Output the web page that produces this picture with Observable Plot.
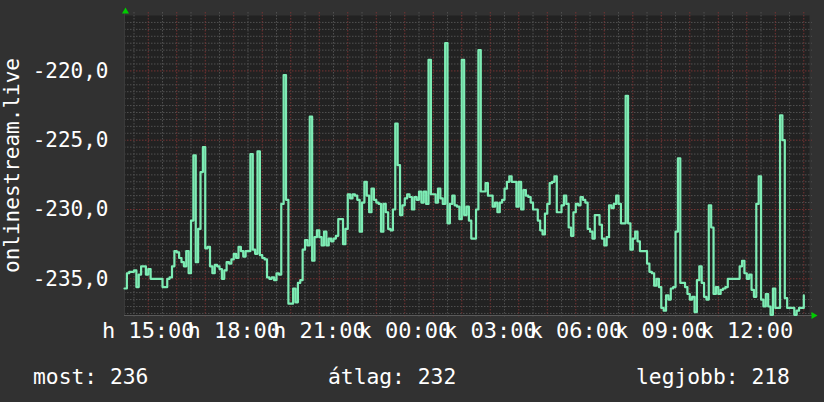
<!DOCTYPE html>
<html>
<head>
<meta charset="utf-8">
<script src="https://cdn.jsdelivr.net/npm/d3@7"></script>
<script src="https://cdn.jsdelivr.net/npm/@observablehq/plot@0.6"></script>
<style>
  html, body { margin: 0; padding: 0; background: #313131; }
  #wrap { position: relative; width: 824px; height: 402px; background: #313131; overflow: hidden;
          font-family: "DejaVu Sans Mono", monospace; color: #ffffff; }
  #chart svg { display: block; }
  #legend { position: relative; width: 824px; height: 57px; font-size: 21.3px; }
  #legend span { position: absolute; top: 21px; line-height: 21px; white-space: pre; }
</style>
</head>
<body>
<div id="wrap">
  <div id="chart"></div>
  <div id="legend"></div>
</div>
<script>
// ---- data ----
const seriesName = "onlinestream.live";
const startTime = new Date(2024, 0, 1, 14, 10);   // hétfő 14:10
const endTime = new Date(2024, 0, 2, 14, 12);     // kedd 14:12
const stepMinutes = 5;
const values = [
  -235.7,-234.6,-234.5,-234.5,-234.4,-235.6,-234.7,-234.1,-234.1,-234.7,
  -234.3,-235.0,-235.0,-235.0,-235.0,-235.0,-235.6,-235.6,-235.0,-234.9,
  -234.1,-233.0,-233.1,-233.5,-233.8,-234.1,-233.0,-234.6,-230.8,-226.1,
  -233.8,-231.4,-227.3,-225.5,-232.8,-232.7,-234.1,-234.6,-234.0,-234.1,
  -234.3,-235.0,-234.4,-233.8,-233.9,-233.6,-233.2,-233.5,-232.7,-233.0,
  -233.4,-233.0,-233.0,-226.0,-232.9,-233.2,-225.8,-233.3,-233.5,-233.6,
  -234.9,-235.0,-234.9,-235.1,-234.6,-234.7,-229.6,-220.3,-229.3,-236.8,
  -236.8,-235.7,-236.7,-235.3,-235.1,-232.9,-232.2,-232.6,-223.3,-233.7,
  -232.0,-231.5,-232.0,-232.6,-231.6,-232.6,-232.1,-232.3,-232.1,-231.9,
  -230.7,-230.7,-232.5,-231.4,-228.9,-229.2,-228.9,-229.0,-229.3,-231.6,
  -229.5,-228.0,-229.0,-230.2,-228.5,-229.3,-229.5,-229.6,-231.6,-229.6,
  -230.2,-231.4,-231.5,-230.0,-223.8,-226.8,-230.4,-229.7,-229.2,-228.9,
  -229.1,-230.0,-229.1,-229.3,-228.7,-229.5,-228.7,-229.6,-219.2,-228.9,
  -228.9,-229.5,-228.5,-229.2,-229.6,-218.0,-231.0,-229.6,-229.0,-229.7,
  -229.8,-230.7,-219.2,-230.4,-229.8,-230.8,-232.1,-232.1,-230.0,-218.5,
  -228.7,-228.7,-228.1,-229.0,-229.0,-229.8,-229.5,-230.2,-229.5,-229.3,
  -228.5,-228.0,-227.6,-228.0,-228.0,-229.8,-228.0,-230.0,-228.6,-229.0,
  -229.1,-229.5,-230.0,-230.0,-230.8,-231.5,-231.8,-230.3,-229.6,-228.1,
  -228.0,-227.6,-230.2,-230.2,-229.7,-229.0,-229.6,-231.3,-231.9,-230.2,
  -229.6,-229.7,-229.1,-229.3,-229.5,-231.4,-231.6,-232.1,-230.4,-230.4,
  -231.1,-232.1,-232.6,-232.0,-229.7,-229.9,-229.6,-229.0,-229.6,-231.0,
  -231.0,-221.8,-231.0,-232.9,-232.1,-231.6,-232.3,-233.0,-233.0,-233.0,
  -233.9,-234.5,-234.6,-235.5,-235.0,-235.6,-237.1,-237.3,-236.2,-236.5,
  -235.7,-235.6,-231.6,-226.3,-235.3,-235.3,-235.6,-236.1,-236.5,-236.3,
  -237.4,-235.1,-234.1,-235.3,-236.3,-236.5,-229.7,-231.3,-236.1,-235.6,
  -236.1,-235.8,-235.7,-235.6,-235.0,-235.0,-235.0,-235.0,-235.0,-234.1,
  -233.7,-234.6,-235.0,-234.7,-235.8,-236.3,-229.6,-227.6,-236.5,-237.0,
  -236.1,-237.0,-237.6,-235.7,-237.1,-237.1,-223.2,-225.0,-236.4,-237.1,
  -237.1,-237.1,-237.6,-237.3,-237.1,-237.1,-236.2
];
const tickTimes = [
  new Date(2024, 0, 1, 15), new Date(2024, 0, 1, 18), new Date(2024, 0, 1, 21),
  new Date(2024, 0, 2, 0), new Date(2024, 0, 2, 3), new Date(2024, 0, 2, 6),
  new Date(2024, 0, 2, 9), new Date(2024, 0, 2, 12)
];
const tickLabels = ["h 15:00", "h 18:00", "h 21:00", "k 00:00", "k 03:00", "k 06:00", "k 09:00", "k 12:00"];
const yTicks = [-235, -230, -225, -220];
const yDomain = [-237.65, -216.0];
const legendLabels = ["most", "átlag", "legjobb"];
const legendValues = [236, 232, 218];

// ---- build ----
const data = values.map((v, i) => ({time: new Date(startTime.getTime() + i * stepMinutes * 60000), value: v}));
const labelOf = new Map(tickTimes.map((t, i) => [+t, tickLabels[i]]));
const hourLines = d3.timeHour.range(startTime, endTime);
const halfHourLines = d3.timeMinute.every(30).range(startTime, endTime).filter(d => d.getMinutes() === 30);
const minorY = d3.range(-237.5, -216, 0.5).filter(v => v % 5 !== 0);

const gridGray = "#505050";
const gridRed = "#763333";
const dash = "1.5,1.5";

const chart = Plot.plot({
  width: 824,
  height: 345,
  marginLeft: 124,
  marginRight: 15,
  marginTop: 15,
  marginBottom: 30,
  style: {background: "transparent", color: "#ffffff", fontFamily: '"DejaVu Sans Mono", monospace', fontSize: "21px"},
  x: {type: "time", domain: [startTime, endTime], label: null},
  y: {domain: yDomain, label: null},
  marks: [
    Plot.frame({fill: "#222222", stroke: "none"}),
    Plot.ruleY(minorY, {stroke: gridGray, strokeDasharray: dash, insetRight: -3}),
    Plot.ruleX(halfHourLines, {stroke: gridGray, strokeDasharray: dash, insetTop: -3, insetBottom: -3}),
    Plot.ruleY(yTicks, {stroke: gridRed, strokeDasharray: dash, insetRight: -3}),
    Plot.ruleX(hourLines, {stroke: gridRed, strokeDasharray: dash, insetTop: -3, insetBottom: -3}),
    Plot.ruleY([yDomain[0]], {stroke: "#5a5a5a", insetRight: -3}),
    Plot.ruleX([startTime], {stroke: "#3a3a3a", insetTop: -3}),
    Plot.line(data, {x: "time", y: "value", curve: "step-after", stroke: "#7decb4", strokeWidth: 2.2}),
    Plot.dot([{t: startTime, v: yDomain[1]}], {x: "t", y: "v", symbol: "triangle", r: 2.6, fill: "#00cc00", stroke: "none", dy: -4, dx: 1}),
    Plot.dot([{t: endTime, v: yDomain[0]}], {x: "t", y: "v", symbol: "triangle", rotate: 90, r: 2.6, fill: "#00cc00", stroke: "none", dx: 4}),
    Plot.axisY(yTicks, {
      tickSize: 0, tickPadding: 16,
      tickFormat: d => d.toFixed(1).replace(".", ","),
      label: seriesName, labelAnchor: "center", labelOffset: 120, labelArrow: "none",
      fontSize: 21
    }),
    Plot.axisX(tickTimes, {
      tickSize: 0, tickPadding: 7,
      tickFormat: d => labelOf.get(+d),
      label: null, fontSize: 22
    })
  ]
});
document.getElementById("chart").appendChild(chart);

const legend = document.getElementById("legend");
const legendLeft = [33, 328, 636];
legendLabels.forEach((lab, i) => {
  const s = document.createElement("span");
  s.textContent = `${lab}: ${legendValues[i]}`;
  s.style.left = legendLeft[i] + "px";
  legend.appendChild(s);
});
</script>
</body>
</html>
